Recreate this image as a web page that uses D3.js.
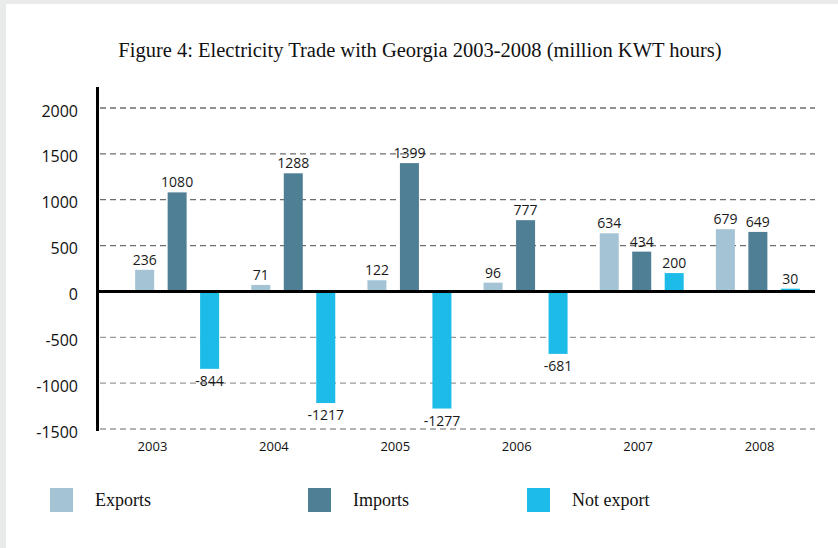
<!DOCTYPE html>
<html>
<head>
<meta charset="utf-8">
<script src="https://cdn.jsdelivr.net/npm/d3@7"></script>
<style>
  html, body { margin: 0; padding: 0; background: #fff; }
  svg { display: block; }
</style>
</head>
<body>
<svg id="chart" width="838" height="548"></svg>
<script>
var years = ['2003', '2004', '2005', '2006', '2007', '2008'];
var seriesNames = ['Exports', 'Imports', 'Not export'];
var exportsVals = [236, 71, 122, 96, 634, 679];
var importsVals = [1080, 1288, 1399, 777, 434, 649];
var notExportVals = [-844, -1217, -1277, -681, 200, 30];
var yTicks = [-1500, -1000, -500, 0, 500, 1000, 1500, 2000];
var colors = ['#a4c4d5', '#4f7f95', '#1cbbe8'];

var svg = d3.select('#chart');

// frame shading at the left and top edge
svg.append('rect').attr('width', 838).attr('height', 548).attr('fill', '#e9eaea');
svg.append('rect').attr('x', 6).attr('y', 4).attr('width', 832).attr('height', 544).attr('fill', '#fff');

svg.append('text')
   .attr('x', 420)
   .attr('y', 57)
   .attr('text-anchor', 'middle')
   .attr('font-family', 'Liberation Serif, serif')
   .attr('font-size', '20.5px')
   .attr('fill', '#111')
   .text('Figure 4: Electricity Trade with Georgia 2003-2008 (million KWT hours)');

var rows = years.map(function(yr, i) {
  return { year: yr, values: [exportsVals[i], importsVals[i], notExportVals[i]] };
});

var y = d3.scaleLinear().domain([-1500, 2000]).range([429, 108]);

var x0 = d3.scaleBand().domain(years).range([119, 816])
           .paddingInner(0.277).paddingOuter(0.139);
var x1 = d3.scaleBand().domain(seriesNames).range([0, x0.bandwidth()])
           .paddingInner(0.415).paddingOuter(0);
var xLab = d3.scalePoint().domain(years).range([97, 815]).padding(0.457);

// gridlines
svg.append('g')
   .selectAll('line')
   .data(yTicks.filter(function(d) { return d !== 0; }))
   .enter().append('line')
   .attr('x1', 100)
   .attr('x2', 815)
   .attr('y1', function(d) { return y(d); })
   .attr('y2', function(d) { return y(d); })
   .attr('stroke', function(d) { return d > 0 ? '#6e6e6e' : '#9a9a9a'; })
   .attr('stroke-width', 1.3)
   .attr('stroke-dasharray', '6,4');

// y tick labels
var yAxis = svg.append('g')
   .attr('transform', 'translate(97,0)')
   .call(d3.axisLeft(y).tickValues(yTicks).tickSize(0).tickPadding(19)
           .tickFormat(function(d) { return String(d); }));
yAxis.select('.domain').remove();
yAxis.selectAll('text')
     .attr('font-family', 'Open Sans, sans-serif')
     .attr('font-size', '16px')
     .attr('fill', '#111')
     .attr('dy', '0.5em');

// bars
var groups = svg.append('g')
   .selectAll('g')
   .data(rows)
   .enter().append('g')
   .attr('transform', function(d) { return 'translate(' + x0(d.year) + ',0)'; });

var cells = groups.selectAll('g')
   .data(function(d) {
     return d.values.map(function(v, k) { return { key: seriesNames[k], k: k, value: v }; });
   })
   .enter().append('g');

cells.append('rect')
   .attr('x', function(d) { return x1(d.key); })
   .attr('y', function(d) { return y(Math.max(0, d.value)); })
   .attr('width', x1.bandwidth())
   .attr('height', function(d) { return Math.abs(y(d.value) - y(0)); })
   .attr('fill', function(d) { return colors[d.k]; });

cells.append('text')
   .attr('x', function(d) { return x1(d.key) + x1.bandwidth() / 2; })
   .attr('y', function(d) { return d.value >= 0 ? y(d.value) - 5 : y(d.value) + 17; })
   .attr('text-anchor', 'middle')
   .attr('font-family', 'Open Sans, sans-serif')
   .attr('font-size', '14px')
   .attr('fill', '#1a1a1a')
   .text(function(d) { return d.value; });

// axes lines
svg.append('line')
   .attr('x1', 97.5).attr('x2', 97.5)
   .attr('y1', 87).attr('y2', 431)
   .attr('stroke', '#000').attr('stroke-width', 3);
svg.append('line')
   .attr('x1', 97).attr('x2', 815)
   .attr('y1', y(0)).attr('y2', y(0))
   .attr('stroke', '#000').attr('stroke-width', 3);

// year labels
svg.append('g')
   .selectAll('text')
   .data(years)
   .enter().append('text')
   .attr('x', function(d) { return xLab(d); })
   .attr('y', 451)
   .attr('text-anchor', 'middle')
   .attr('font-family', 'Open Sans, sans-serif')
   .attr('font-size', '13px')
   .attr('fill', '#111')
   .text(function(d) { return d; });

// legend
var legendX = [50, 308, 527];
var legend = svg.append('g')
   .selectAll('g')
   .data(seriesNames)
   .enter().append('g')
   .attr('transform', function(d, i) { return 'translate(' + legendX[i] + ',488)'; });

legend.append('rect')
   .attr('width', 23).attr('height', 24)
   .attr('fill', function(d, i) { return colors[i]; });

legend.append('text')
   .attr('x', 45)
   .attr('y', 18)
   .attr('font-family', 'Liberation Serif, serif')
   .attr('font-size', '18px')
   .attr('fill', '#111')
   .text(function(d) { return d; });
</script>
</body>
</html>
